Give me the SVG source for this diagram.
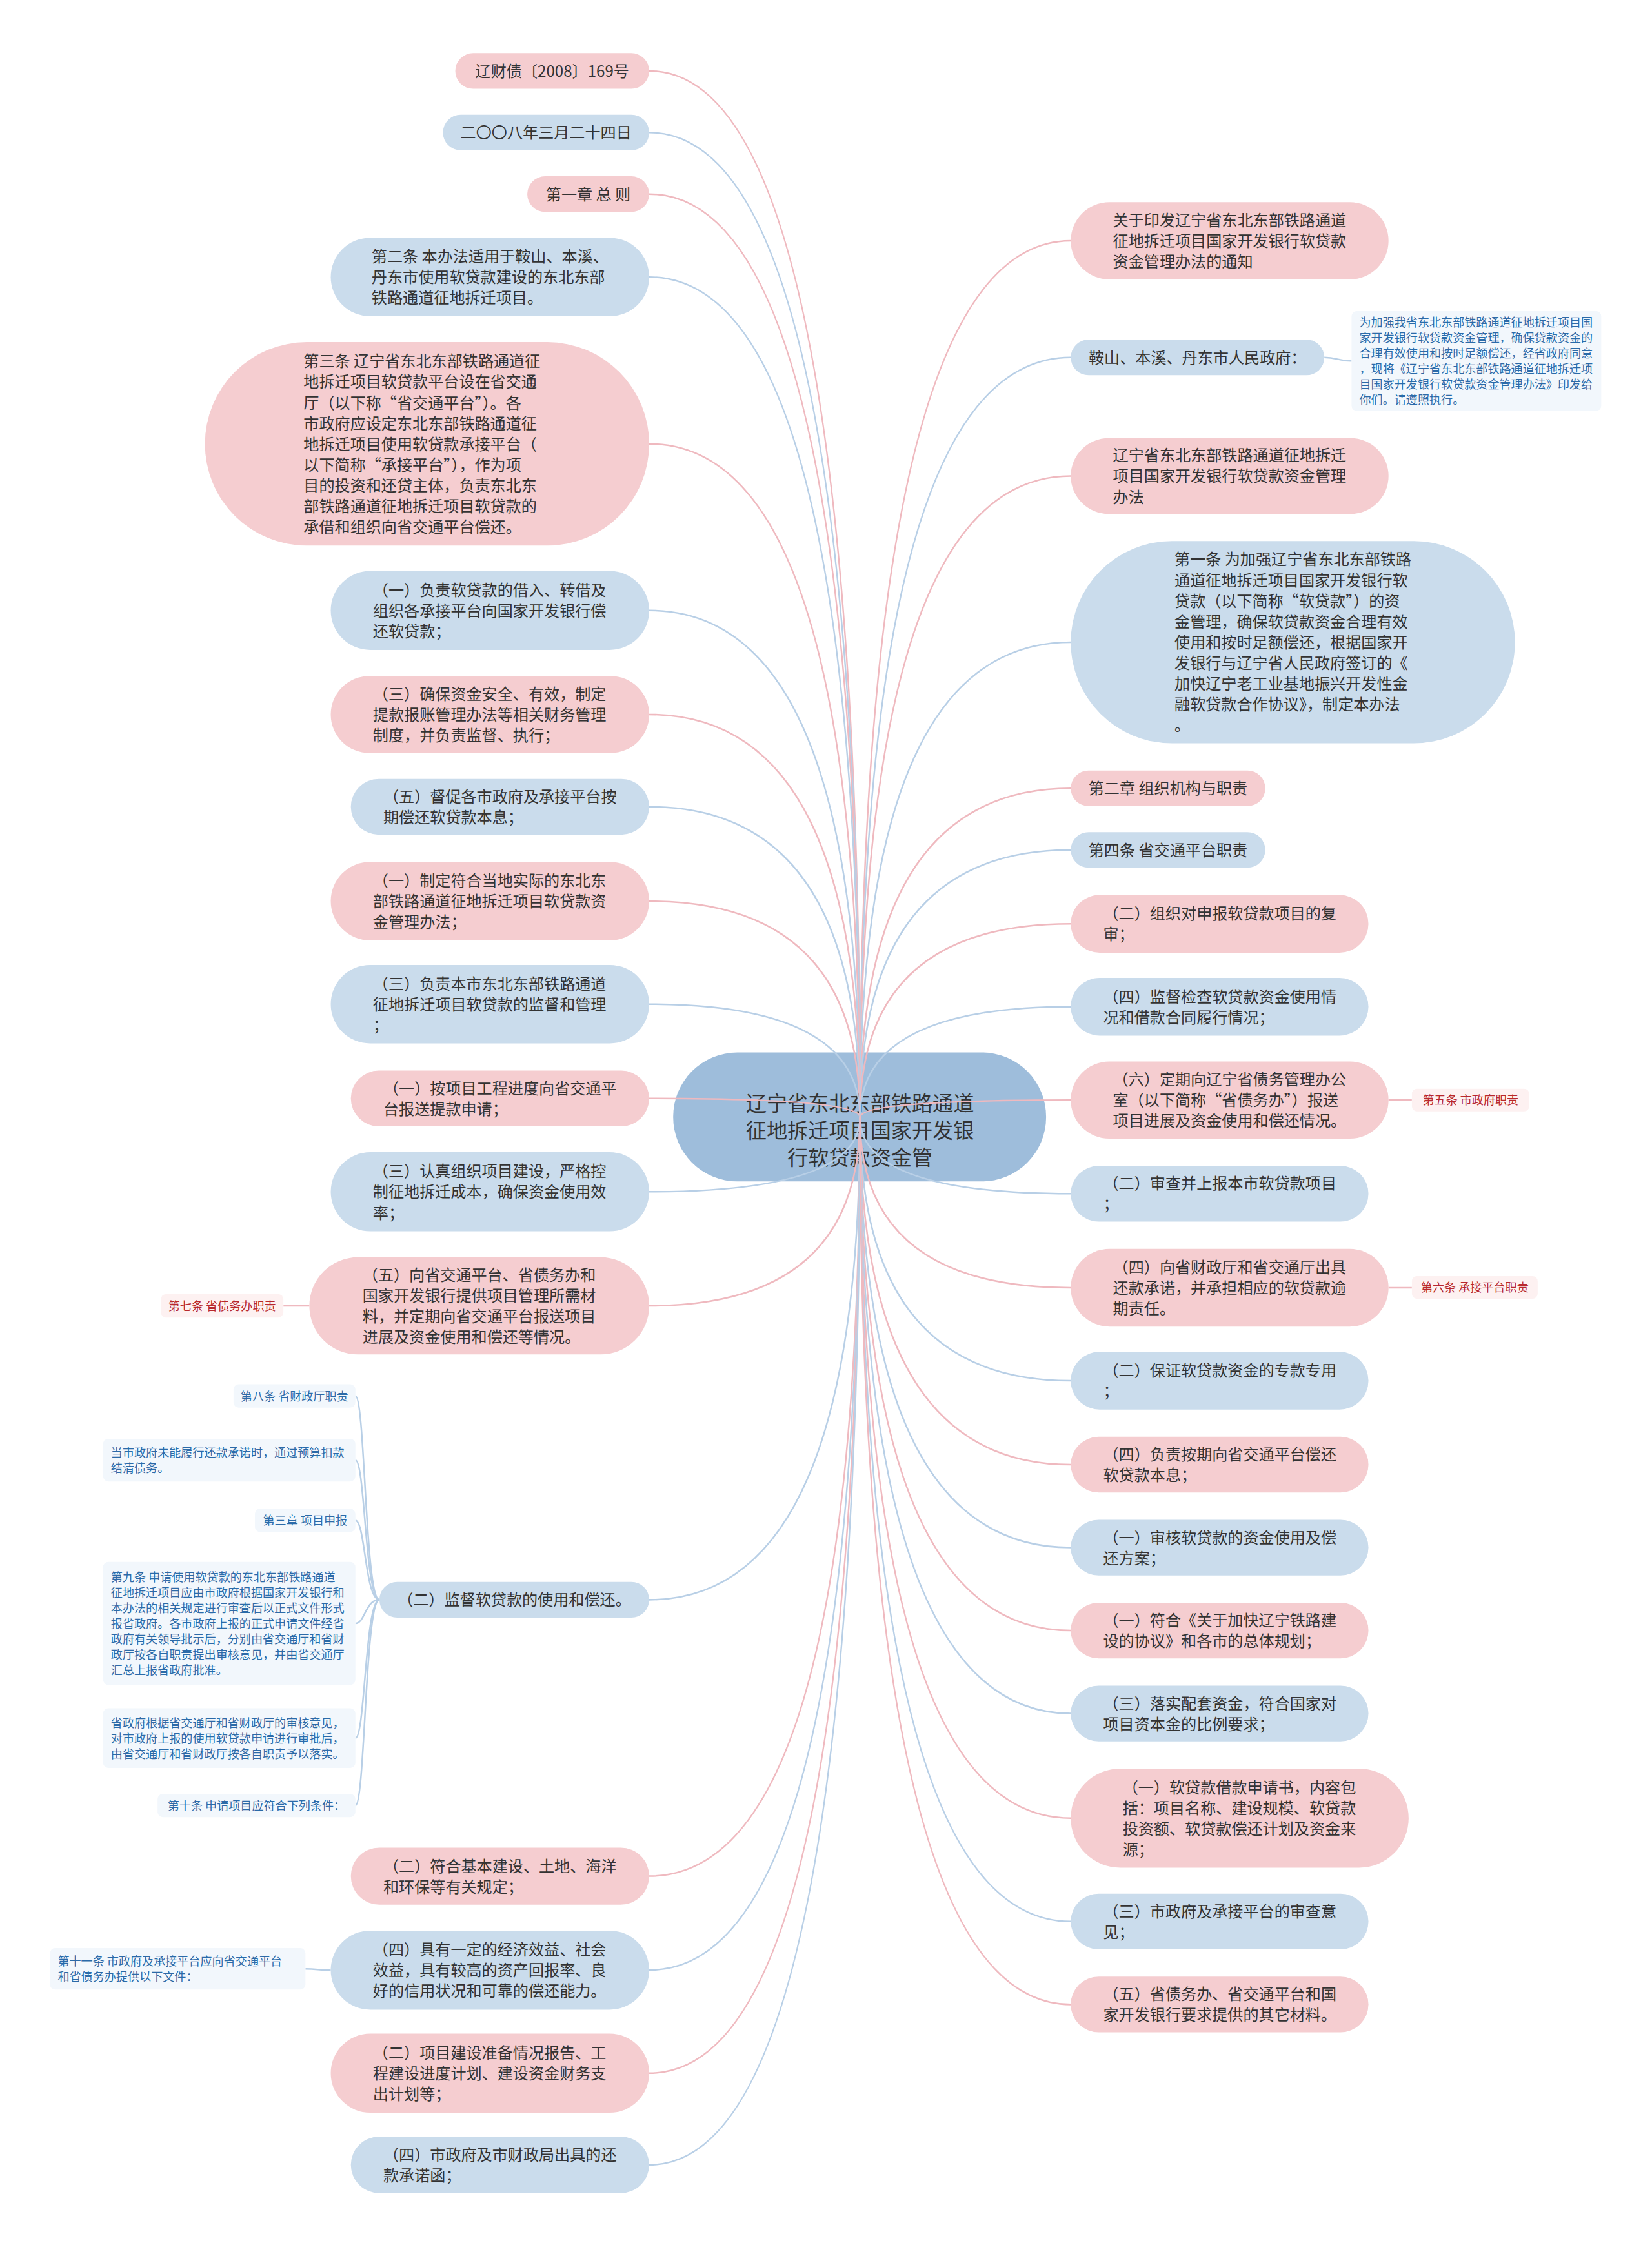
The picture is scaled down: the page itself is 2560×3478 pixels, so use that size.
<svg xmlns="http://www.w3.org/2000/svg" width="2560" height="3478" viewBox="0 0 2560 3478">
<style>
.p{fill:#f5cdd0}
.b{fill:#cadcec}
.c{fill:#9ebddb}
.nb{fill:#f2f7fc}
.np{fill:#fdf1f1}
text{font-family:"Noto Sans CJK SC","Liberation Sans",sans-serif}
.t{font-size:24px;fill:#333}
.tc{font-size:32px;fill:#333}
.sb{font-size:18px;fill:#2b6aa8}
.sr{font-size:18px;fill:#b8282d}
.m{text-anchor:middle}
.lp{fill:none;stroke:#efb9bf;stroke-width:2.5}
.lb{fill:none;stroke:#b8cfe6;stroke-width:2.5}
</style>
<rect width="2560" height="3478" fill="#ffffff"/>
<g id="diagram" transform="scale(1.005,1.004)">
<g id="center">
<rect class="c" x="1038" y="1624" width="575" height="199" rx="99"/>
<text class="tc m" x="1326"><tspan x="1326" y="1714">辽宁省东北东部铁路通道</tspan><tspan x="1326" y="1756">征地拆迁项目国家开发银</tspan><tspan x="1326" y="1798">行软贷款资金管</tspan></text>
</g>
<g id="connectors">
<path class="lp" d="M1326,1724 Q1326,109.5 1001,109.5"/>
<path class="lb" d="M1326,1724 Q1326,204.5 1001,204.5"/>
<path class="lp" d="M1326,1724 Q1326,299.5 1001,299.5"/>
<path class="lb" d="M1326,1724 Q1326,427.5 1001,427.5"/>
<path class="lp" d="M1326,1724 Q1326,685 1001,685"/>
<path class="lb" d="M1326,1724 Q1326,942 1001,942"/>
<path class="lp" d="M1326,1724 Q1326,1102.5 1001,1102.5"/>
<path class="lb" d="M1326,1724 Q1326,1245 1001,1245"/>
<path class="lp" d="M1326,1724 Q1326,1390.5 1001,1390.5"/>
<path class="lb" d="M1326,1724 Q1326,1549.5 1001,1549.5"/>
<path class="lp" d="M1326,1724 Q1326,1695 1001,1695"/>
<path class="lb" d="M1326,1724 Q1326,1839 1001,1839"/>
<path class="lp" d="M1326,1724 Q1326,2015 1001,2015"/>
<path class="lb" d="M1326,1724 Q1326,2468.5 1001,2468.5"/>
<path class="lp" d="M1326,1724 Q1326,2895 1001,2895"/>
<path class="lb" d="M1326,1724 Q1326,3040 1001,3040"/>
<path class="lp" d="M1326,1724 Q1326,3199 1001,3199"/>
<path class="lb" d="M1326,1724 Q1326,3340.5 1001,3340.5"/>
<path class="lp" d="M1326,1724 Q1326,371.5 1651,371.5"/>
<path class="lb" d="M1326,1724 Q1326,551.5 1651,551.5"/>
<path class="lp" d="M1326,1724 Q1326,734.5 1651,734.5"/>
<path class="lb" d="M1326,1724 Q1326,991 1651,991"/>
<path class="lp" d="M1326,1724 Q1326,1216.5 1651,1216.5"/>
<path class="lb" d="M1326,1724 Q1326,1311.5 1651,1311.5"/>
<path class="lp" d="M1326,1724 Q1326,1425.5 1651,1425.5"/>
<path class="lb" d="M1326,1724 Q1326,1553.5 1651,1553.5"/>
<path class="lp" d="M1326,1724 Q1326,1697.5 1651,1697.5"/>
<path class="lb" d="M1326,1724 Q1326,1842 1651,1842"/>
<path class="lp" d="M1326,1724 Q1326,1987 1651,1987"/>
<path class="lb" d="M1326,1724 Q1326,2130.5 1651,2130.5"/>
<path class="lp" d="M1326,1724 Q1326,2260 1651,2260"/>
<path class="lb" d="M1326,1724 Q1326,2388 1651,2388"/>
<path class="lp" d="M1326,1724 Q1326,2516 1651,2516"/>
<path class="lb" d="M1326,1724 Q1326,2644 1651,2644"/>
<path class="lp" d="M1326,1724 Q1326,2805.5 1651,2805.5"/>
<path class="lb" d="M1326,1724 Q1326,2965 1651,2965"/>
<path class="lp" d="M1326,1724 Q1326,3093 1651,3093"/>
<path class="lp" d="M477,2015 L437,2015"/>
<path class="lb" d="M510,3040 C490,3040 490,3038 471,3038"/>
<path class="lp" d="M2141,1697.5 L2177,1697.5"/>
<path class="lp" d="M2141,1987 L2177,1987"/>
<path class="lb" d="M2042,551.5 C2062,551.5 2062,557 2084,557"/>
<path class="lb" d="M585,2468.5 C563,2468.5 563,2154 548,2154"/>
<path class="lb" d="M585,2468.5 C563,2468.5 563,2253 548,2253"/>
<path class="lb" d="M585,2468.5 C563,2468.5 563,2346 548,2346"/>
<path class="lb" d="M585,2468.5 C563,2468.5 563,2505 548,2505"/>
<path class="lb" d="M585,2468.5 C563,2468.5 563,2682 548,2682"/>
<path class="lb" d="M585,2468.5 C563,2468.5 563,2786 548,2786"/>
</g>
<g id="L1"><rect class="p" x="702" y="82" width="299" height="55" rx="27.5"/><text class="t m" x="851.5" y="118.5">辽财债〔2008〕169号</text></g>
<g id="L2"><rect class="b" x="683" y="177" width="318" height="55" rx="27.5"/><text class="t m" x="842" y="213.5">二〇〇八年三月二十四日</text></g>
<g id="L3"><rect class="p" x="813" y="272" width="188" height="55" rx="27.5"/><text class="t m" x="907" y="308.5">第一章 总 则</text></g>
<g id="L4"><rect class="b" x="510" y="367" width="491" height="121" rx="60.5"/><text class="t"><tspan x="573" y="404.5">第二条 本办法适用于鞍山、本溪、</tspan><tspan x="573" y="436.5">丹东市使用软贷款建设的东北东部</tspan><tspan x="573" y="468.5">铁路通道征地拆迁项目。</tspan></text></g>
<g id="L5"><rect class="p" x="316" y="528" width="685" height="314" rx="157"/><text class="t"><tspan x="468" y="566">第三条 辽宁省东北东部铁路通道征</tspan><tspan x="468" y="598">地拆迁项目软贷款平台设在省交通</tspan><tspan x="468" y="630">厅（以下称“省交通平台”）。各</tspan><tspan x="468" y="662">市政府应设定东北东部铁路通道征</tspan><tspan x="468" y="694">地拆迁项目使用软贷款承接平台（</tspan><tspan x="468" y="726">以下简称“承接平台”），作为项</tspan><tspan x="468" y="758">目的投资和还贷主体，负责东北东</tspan><tspan x="468" y="790">部铁路通道征地拆迁项目软贷款的</tspan><tspan x="468" y="822">承借和组织向省交通平台偿还。</tspan></text></g>
<g id="L6"><rect class="b" x="510" y="881" width="491" height="122" rx="61"/><text class="t"><tspan x="575" y="919">（一）负责软贷款的借入、转借及</tspan><tspan x="575" y="951">组织各承接平台向国家开发银行偿</tspan><tspan x="575" y="983">还软贷款；</tspan></text></g>
<g id="L7"><rect class="p" x="510" y="1043" width="491" height="119" rx="59.5"/><text class="t"><tspan x="575" y="1079.5">（三）确保资金安全、有效，制定</tspan><tspan x="575" y="1111.5">提款报账管理办法等相关财务管理</tspan><tspan x="575" y="1143.5">制度，并负责监督、执行；</tspan></text></g>
<g id="L8"><rect class="b" x="541" y="1202" width="460" height="86" rx="43"/><text class="t"><tspan x="591" y="1238">（五）督促各市政府及承接平台按</tspan><tspan x="591" y="1270">期偿还软贷款本息；</tspan></text></g>
<g id="L9"><rect class="p" x="510" y="1330" width="491" height="121" rx="60.5"/><text class="t"><tspan x="575" y="1367.5">（一）制定符合当地实际的东北东</tspan><tspan x="575" y="1399.5">部铁路通道征地拆迁项目软贷款资</tspan><tspan x="575" y="1431.5">金管理办法；</tspan></text></g>
<g id="L10"><rect class="b" x="510" y="1489" width="491" height="121" rx="60.5"/><text class="t"><tspan x="575" y="1526.5">（三）负责本市东北东部铁路通道</tspan><tspan x="575" y="1558.5">征地拆迁项目软贷款的监督和管理</tspan><tspan x="575" y="1590.5">；</tspan></text></g>
<g id="L11"><rect class="p" x="541" y="1652" width="460" height="86" rx="43"/><text class="t"><tspan x="591" y="1688">（一）按项目工程进度向省交通平</tspan><tspan x="591" y="1720">台报送提款申请；</tspan></text></g>
<g id="L12"><rect class="b" x="510" y="1778" width="491" height="122" rx="61"/><text class="t"><tspan x="575" y="1816">（三）认真组织项目建设，严格控</tspan><tspan x="575" y="1848">制征地拆迁成本，确保资金使用效</tspan><tspan x="575" y="1880">率；</tspan></text></g>
<g id="L13"><rect class="p" x="477" y="1940" width="524" height="150" rx="75"/><text class="t"><tspan x="559" y="1976">（五）向省交通平台、省债务办和</tspan><tspan x="559" y="2008">国家开发银行提供项目管理所需材</tspan><tspan x="559" y="2040">料，并定期向省交通平台报送项目</tspan><tspan x="559" y="2072">进展及资金使用和偿还等情况。</tspan></text></g>
<g id="L13c"><rect class="np" x="248" y="1997" width="189" height="36" rx="8"/><text class="sr m" x="342.5" y="2022">第七条 省债务办职责</text></g>
<g id="L14"><rect class="b" x="585" y="2441" width="416" height="55" rx="27.5"/><text class="t m" x="793" y="2477.5">（二）监督软贷款的使用和偿还。</text></g>
<g id="C1"><rect class="nb" x="360" y="2136" width="188" height="36" rx="8"/><text class="sb m" x="454" y="2161">第八条 省财政厅职责</text></g>
<g id="C2"><rect class="nb" x="159" y="2220" width="389" height="66" rx="8"/><text class="sb"><tspan x="171" y="2248">当市政府未能履行还款承诺时，通过预算扣款</tspan><tspan x="171" y="2272">结清债务。</tspan></text></g>
<g id="C3"><rect class="nb" x="393" y="2328" width="155" height="36" rx="8"/><text class="sb m" x="470.5" y="2353">第三章 项目申报</text></g>
<g id="C4"><rect class="nb" x="159" y="2410" width="389" height="190" rx="8"/><text class="sb"><tspan x="171" y="2440">第九条 申请使用软贷款的东北东部铁路通道</tspan><tspan x="171" y="2464">征地拆迁项目应由市政府根据国家开发银行和</tspan><tspan x="171" y="2488">本办法的相关规定进行审查后以正式文件形式</tspan><tspan x="171" y="2512">报省政府。各市政府上报的正式申请文件经省</tspan><tspan x="171" y="2536">政府有关领导批示后，分别由省交通厅和省财</tspan><tspan x="171" y="2560">政厅按各自职责提出审核意见，并由省交通厅</tspan><tspan x="171" y="2584">汇总上报省政府批准。</tspan></text></g>
<g id="C5"><rect class="nb" x="159" y="2636" width="389" height="92" rx="8"/><text class="sb"><tspan x="171" y="2665">省政府根据省交通厅和省财政厅的审核意见，</tspan><tspan x="171" y="2689">对市政府上报的使用软贷款申请进行审批后，</tspan><tspan x="171" y="2713">由省交通厅和省财政厅按各自职责予以落实。</tspan></text></g>
<g id="C6"><rect class="nb" x="243" y="2768" width="305" height="36" rx="8"/><text class="sb m" x="395.5" y="2793">第十条 申请项目应符合下列条件：</text></g>
<g id="L15"><rect class="p" x="541" y="2851" width="460" height="88" rx="44"/><text class="t"><tspan x="591" y="2888">（二）符合基本建设、土地、海洋</tspan><tspan x="591" y="2920">和环保等有关规定；</tspan></text></g>
<g id="L16"><rect class="b" x="510" y="2979" width="491" height="122" rx="61"/><text class="t"><tspan x="575" y="3017">（四）具有一定的经济效益、社会</tspan><tspan x="575" y="3049">效益，具有较高的资产回报率、良</tspan><tspan x="575" y="3081">好的信用状况和可靠的偿还能力。</tspan></text></g>
<g id="L16c"><rect class="nb" x="77" y="3006" width="394" height="64" rx="8"/><text class="sb"><tspan x="89" y="3033">第十一条 市政府及承接平台应向省交通平台</tspan><tspan x="89" y="3057">和省债务办提供以下文件：</tspan></text></g>
<g id="L17"><rect class="p" x="510" y="3138" width="491" height="122" rx="61"/><text class="t"><tspan x="575" y="3176">（二）项目建设准备情况报告、工</tspan><tspan x="575" y="3208">程建设进度计划、建设资金财务支</tspan><tspan x="575" y="3240">出计划等；</tspan></text></g>
<g id="L18"><rect class="b" x="541" y="3297" width="460" height="87" rx="43.5"/><text class="t"><tspan x="591" y="3333.5">（四）市政府及市财政局出具的还</tspan><tspan x="591" y="3365.5">款承诺函；</tspan></text></g>
<g id="R1"><rect class="p" x="1651" y="312" width="490" height="119" rx="59.5"/><text class="t"><tspan x="1716" y="348.5">关于印发辽宁省东北东部铁路通道</tspan><tspan x="1716" y="380.5">征地拆迁项目国家开发银行软贷款</tspan><tspan x="1716" y="412.5">资金管理办法的通知</tspan></text></g>
<g id="R2"><rect class="b" x="1651" y="524" width="391" height="55" rx="27.5"/><text class="t m" x="1846.5" y="560.5">鞍山、本溪、丹东市人民政府：</text></g>
<g id="R2n"><rect class="nb" x="2084" y="480" width="385" height="154" rx="8"/><text class="sb"><tspan x="2096" y="504">为加强我省东北东部铁路通道征地拆迁项目国</tspan><tspan x="2096" y="528">家开发银行软贷款资金管理，确保贷款资金的</tspan><tspan x="2096" y="552">合理有效使用和按时足额偿还，经省政府同意</tspan><tspan x="2096" y="576">，现将《辽宁省东北东部铁路通道征地拆迁项</tspan><tspan x="2096" y="600">目国家开发银行软贷款资金管理办法》印发给</tspan><tspan x="2096" y="624">你们。请遵照执行。</tspan></text></g>
<g id="R3"><rect class="p" x="1651" y="676" width="490" height="117" rx="58.5"/><text class="t"><tspan x="1716" y="711.5">辽宁省东北东部铁路通道征地拆迁</tspan><tspan x="1716" y="743.5">项目国家开发银行软贷款资金管理</tspan><tspan x="1716" y="775.5">办法</tspan></text></g>
<g id="R4"><rect class="b" x="1651" y="835" width="685" height="312" rx="156"/><text class="t"><tspan x="1811" y="872">第一条 为加强辽宁省东北东部铁路</tspan><tspan x="1811" y="904">通道征地拆迁项目国家开发银行软</tspan><tspan x="1811" y="936">贷款（以下简称“软贷款”）的资</tspan><tspan x="1811" y="968">金管理，确保软贷款资金合理有效</tspan><tspan x="1811" y="1000">使用和按时足额偿还，根据国家开</tspan><tspan x="1811" y="1032">发银行与辽宁省人民政府签订的《</tspan><tspan x="1811" y="1064">加快辽宁老工业基地振兴开发性金</tspan><tspan x="1811" y="1096">融软贷款合作协议》，制定本办法</tspan><tspan x="1811" y="1128">。</tspan></text></g>
<g id="R5"><rect class="p" x="1651" y="1189" width="300" height="55" rx="27.5"/><text class="t m" x="1801" y="1225.5">第二章 组织机构与职责</text></g>
<g id="R6"><rect class="b" x="1651" y="1284" width="300" height="55" rx="27.5"/><text class="t m" x="1801" y="1320.5">第四条 省交通平台职责</text></g>
<g id="R7"><rect class="p" x="1651" y="1381" width="459" height="89" rx="44.5"/><text class="t"><tspan x="1701" y="1418.5">（二）组织对申报软贷款项目的复</tspan><tspan x="1701" y="1450.5">审；</tspan></text></g>
<g id="R8"><rect class="b" x="1651" y="1509" width="459" height="89" rx="44.5"/><text class="t"><tspan x="1701" y="1546.5">（四）监督检查软贷款资金使用情</tspan><tspan x="1701" y="1578.5">况和借款合同履行情况；</tspan></text></g>
<g id="R9"><rect class="p" x="1651" y="1638" width="490" height="119" rx="59.5"/><text class="t"><tspan x="1716" y="1674.5">（六）定期向辽宁省债务管理办公</tspan><tspan x="1716" y="1706.5">室（以下简称“省债务办”）报送</tspan><tspan x="1716" y="1738.5">项目进展及资金使用和偿还情况。</tspan></text></g>
<g id="R9c"><rect class="np" x="2177" y="1680" width="181" height="35" rx="8"/><text class="sr m" x="2267.5" y="1704.5">第五条 市政府职责</text></g>
<g id="R10"><rect class="b" x="1651" y="1799" width="459" height="86" rx="43"/><text class="t"><tspan x="1701" y="1835">（二）审查并上报本市软贷款项目</tspan><tspan x="1701" y="1867">；</tspan></text></g>
<g id="R11"><rect class="p" x="1651" y="1927" width="490" height="120" rx="60"/><text class="t"><tspan x="1716" y="1964">（四）向省财政厅和省交通厅出具</tspan><tspan x="1716" y="1996">还款承诺，并承担相应的软贷款逾</tspan><tspan x="1716" y="2028">期责任。</tspan></text></g>
<g id="R11c"><rect class="np" x="2177" y="1969" width="194" height="35" rx="8"/><text class="sr m" x="2274" y="1993.5">第六条 承接平台职责</text></g>
<g id="R12"><rect class="b" x="1651" y="2086" width="459" height="89" rx="44.5"/><text class="t"><tspan x="1701" y="2123.5">（二）保证软贷款资金的专款专用</tspan><tspan x="1701" y="2155.5">；</tspan></text></g>
<g id="R13"><rect class="p" x="1651" y="2217" width="459" height="86" rx="43"/><text class="t"><tspan x="1701" y="2253">（四）负责按期向省交通平台偿还</tspan><tspan x="1701" y="2285">软贷款本息；</tspan></text></g>
<g id="R14"><rect class="b" x="1651" y="2345" width="459" height="86" rx="43"/><text class="t"><tspan x="1701" y="2381">（一）审核软贷款的资金使用及偿</tspan><tspan x="1701" y="2413">还方案；</tspan></text></g>
<g id="R15"><rect class="p" x="1651" y="2473" width="459" height="86" rx="43"/><text class="t"><tspan x="1701" y="2509">（一）符合《关于加快辽宁铁路建</tspan><tspan x="1701" y="2541">设的协议》和各市的总体规划；</tspan></text></g>
<g id="R16"><rect class="b" x="1651" y="2601" width="459" height="86" rx="43"/><text class="t"><tspan x="1701" y="2637">（三）落实配套资金，符合国家对</tspan><tspan x="1701" y="2669">项目资本金的比例要求；</tspan></text></g>
<g id="R17"><rect class="p" x="1651" y="2729" width="521" height="153" rx="76.5"/><text class="t"><tspan x="1731" y="2766.5">（一）软贷款借款申请书，内容包</tspan><tspan x="1731" y="2798.5">括：项目名称、建设规模、软贷款</tspan><tspan x="1731" y="2830.5">投资额、软贷款偿还计划及资金来</tspan><tspan x="1731" y="2862.5">源；</tspan></text></g>
<g id="R18"><rect class="b" x="1651" y="2922" width="459" height="86" rx="43"/><text class="t"><tspan x="1701" y="2958">（三）市政府及承接平台的审查意</tspan><tspan x="1701" y="2990">见；</tspan></text></g>
<g id="R19"><rect class="p" x="1651" y="3050" width="459" height="86" rx="43"/><text class="t"><tspan x="1701" y="3086">（五）省债务办、省交通平台和国</tspan><tspan x="1701" y="3118">家开发银行要求提供的其它材料。</tspan></text></g>
</g>
</svg>
